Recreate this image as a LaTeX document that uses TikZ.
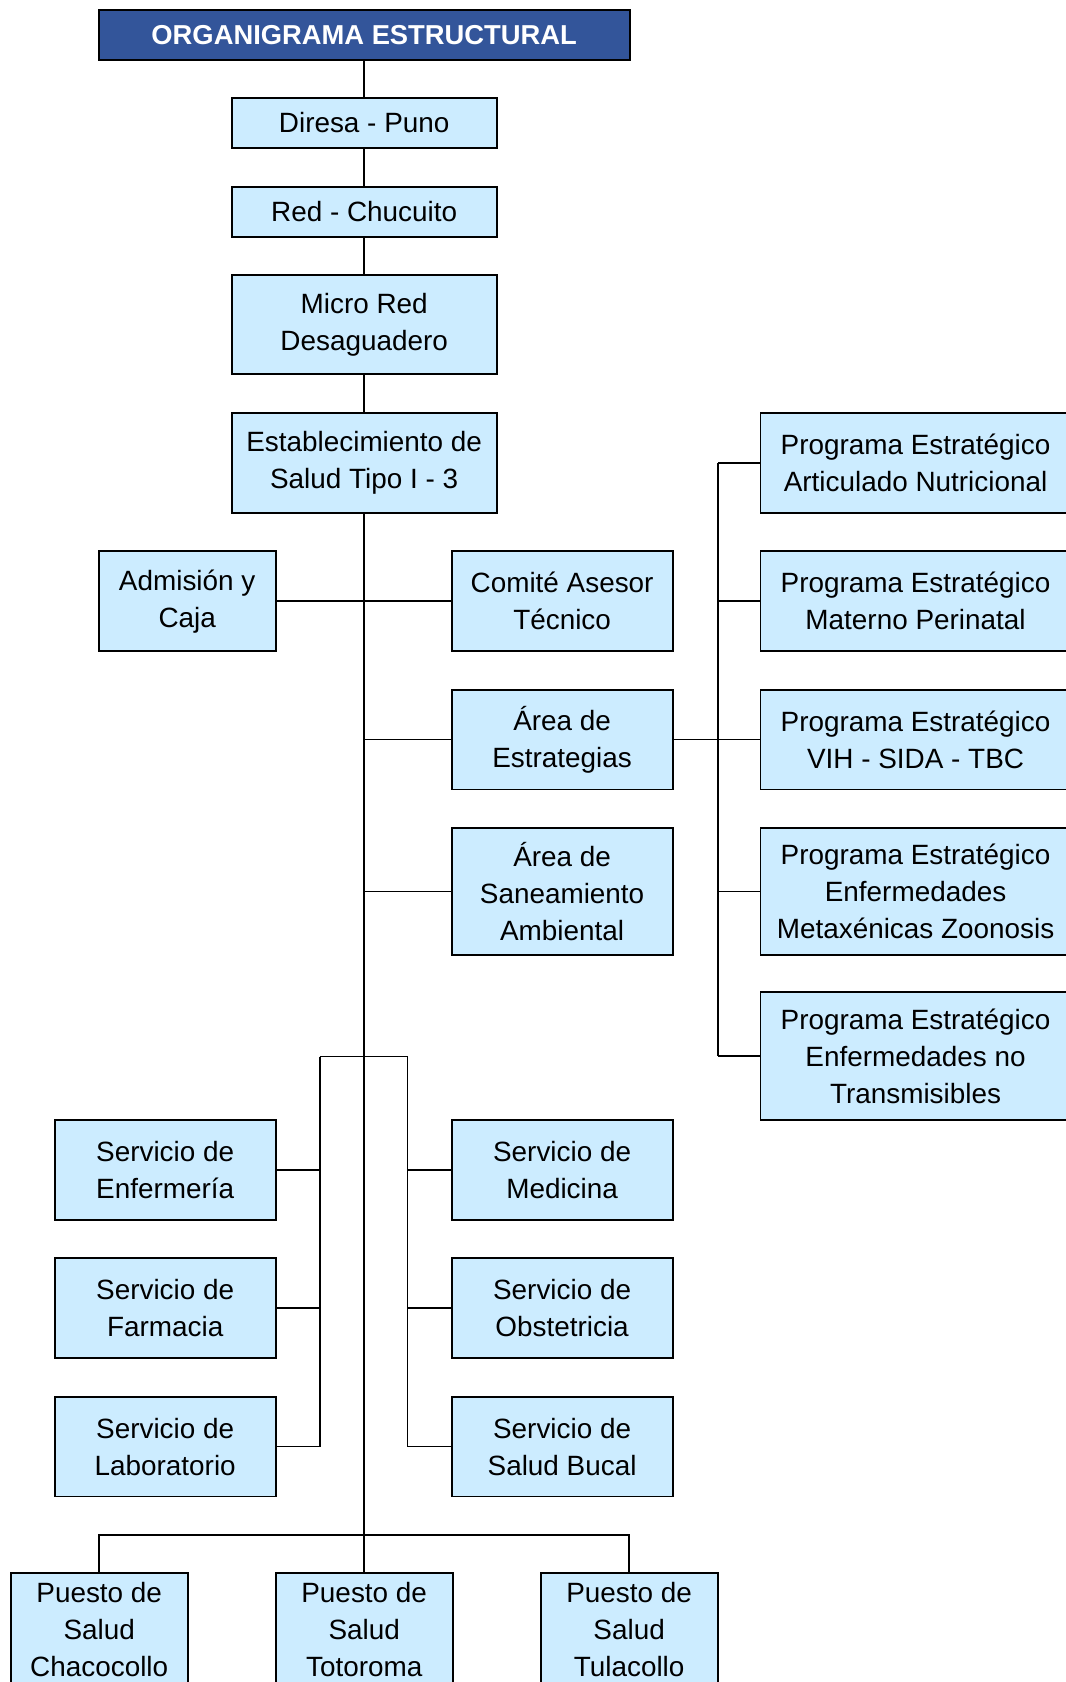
\documentclass[tikz,border=0pt]{standalone}
\usepackage{fontspec}
\setmainfont{Liberation Sans}
\definecolor{lb}{HTML}{CCECFF}
\definecolor{tb}{HTML}{33559A}
\begin{document}
\begin{tikzpicture}[x=1pt,y=-1pt,
  box/.style={draw=black, line width=1.7pt, fill=lb, inner sep=0pt, align=center,
    font=\fontsize{26}{34.5}\selectfont},
  titlebox/.style={draw=black, line width=1.7pt, fill=tb, inner sep=0pt, text=white,
    font=\bfseries\fontsize{25.5}{30}\selectfont},
  conn/.style={draw=black, line width=1.6pt}]
\useasboundingbox (0,0) rectangle (993,1568);
% boxes
\node[titlebox, minimum width=495pt, minimum height=47pt] (title) at (339.5,32.5) {ORGANIGRAMA ESTRUCTURAL};
\node[box, minimum width=247pt, minimum height=47pt] (diresa) at (339.5,114.5) {Diresa - Puno};
\node[box, minimum width=247pt, minimum height=47pt] (red) at (339.5,197.5) {Red - Chucuito};
\node[box, minimum width=247pt, minimum height=93pt] (micro) at (339.5,302.5) {Micro Red\\Desaguadero};
\node[box, minimum width=247pt, minimum height=93pt] (est) at (339.5,431.5) {Establecimiento de\\Salud Tipo I - 3};
\node[box, minimum width=165pt, minimum height=93pt] (adm) at (174.5,560.5) {Admisión y\\Caja};
\node[box, minimum width=206pt, minimum height=93pt] (com) at (524,560.5) {Comité Asesor\\Técnico};
\node[box, minimum width=206pt, minimum height=93pt] (estr) at (524,689.5) {Área de\\Estrategias};
\node[box, minimum width=206pt, minimum height=118pt] (san) at (524,831) {Área de\\Saneamiento\\Ambiental};
\node[box, minimum width=289pt, minimum height=93pt] (p1) at (853.5,431.5) {Programa Estratégico\\Articulado Nutricional};
\node[box, minimum width=289pt, minimum height=93pt] (p2) at (853.5,560.5) {Programa Estratégico\\Materno Perinatal};
\node[box, minimum width=289pt, minimum height=93pt] (p3) at (853.5,689.5) {Programa Estratégico\\VIH - SIDA - TBC};
\node[box, minimum width=289pt, minimum height=118pt] (p4) at (853.5,831) {Programa Estratégico\\Enfermedades\\Metaxénicas Zoonosis};
\node[box, minimum width=289pt, minimum height=119pt] (p5) at (853.5,984.5) {Programa Estratégico\\Enfermedades no\\Transmisibles};
\node[box, minimum width=206pt, minimum height=93pt] (enf) at (154,1090.5) {Servicio de\\Enfermería};
\node[box, minimum width=206pt, minimum height=93pt] (far) at (154,1219.5) {Servicio de\\Farmacia};
\node[box, minimum width=206pt, minimum height=93pt] (lab) at (154,1348.5) {Servicio de\\Laboratorio};
\node[box, minimum width=206pt, minimum height=93pt] (med) at (524,1090.5) {Servicio de\\Medicina};
\node[box, minimum width=206pt, minimum height=93pt] (obs) at (524,1219.5) {Servicio de\\Obstetricia};
\node[box, minimum width=206pt, minimum height=93pt] (buc) at (524,1348.5) {Servicio de\\Salud Bucal};
\node[box, minimum width=165pt, minimum height=106pt] (cha) at (92.5,1519) {Puesto de\\Salud\\Chacocollo};
\node[box, minimum width=165pt, minimum height=106pt] (tot) at (339.5,1519) {Puesto de\\Salud\\Totoroma};
\node[box, minimum width=165pt, minimum height=106pt] (tul) at (586.5,1519) {Puesto de\\Salud\\Tulacollo};
% bus coordinates
\coordinate (pbt) at (669,431.5);
\coordinate (pbb) at (669,984.5);
\coordinate (sl) at (298,985);
\coordinate (sr) at (380,985);
\coordinate (pb) at (339.5,1431);
% connectors
\draw[conn] (title.south) -- (diresa.north);
\draw[conn] (diresa.south) -- (red.north);
\draw[conn] (red.south) -- (micro.north);
\draw[conn] (micro.south) -- (est.north);
\draw[conn] (est.south) -- (tot.north);
\draw[conn] (adm.east) -- (com.west);
\draw[conn] (estr.west) -- (estr.west -| est.south);
\draw[conn] (san.west) -- (san.west -| est.south);
\draw[conn] (pbt) -- (pbb);
\draw[conn] (estr.east) -- (p3.west);
\draw[conn] (p1.west) -- (p1.west -| pbt);
\draw[conn] (p2.west) -- (p2.west -| pbt);
\draw[conn] (p4.west) -- (p4.west -| pbt);
\draw[conn] (p5.west) -- (p5.west -| pbt);
\draw[conn] (sl) -- (sr);
\draw[conn] (sl) |- (enf.east);
\draw[conn] (sl) |- (far.east);
\draw[conn] (sl) |- (lab.east);
\draw[conn] (sr) |- (med.west);
\draw[conn] (sr) |- (obs.west);
\draw[conn] (sr) |- (buc.west);
\draw[conn] (cha.north) -- (cha.north |- pb) -- (tul.north |- pb) -- (tul.north);
\end{tikzpicture}
\end{document}
